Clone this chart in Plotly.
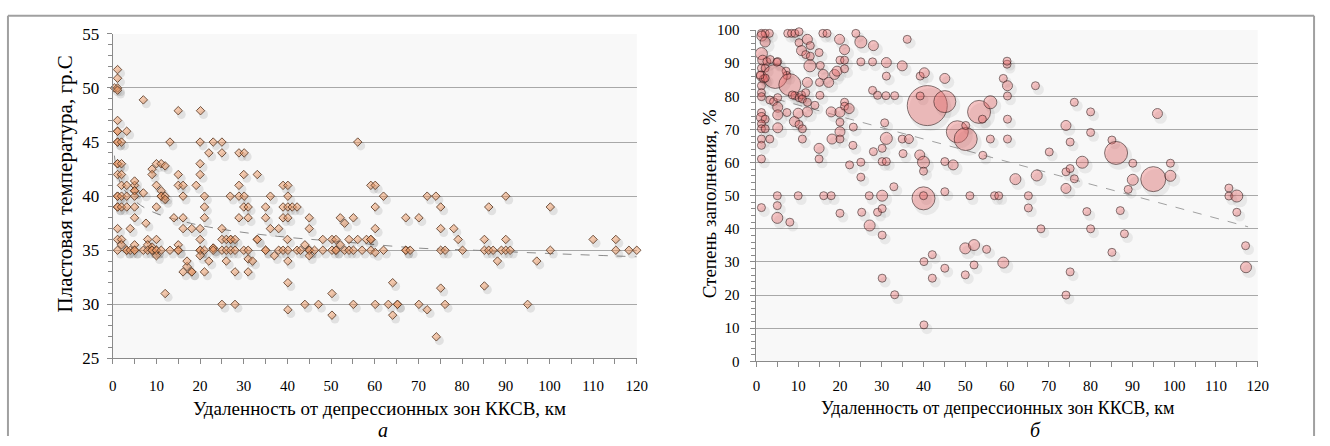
import plotly.graph_objects as go

# ---------------- DATA: panel "а" (temperature vs distance) ----------------
temp_points = [
    (0.4,50),(1.1,51.7),(1.1,50.9),(1.1,50),(1.1,49.8),(7.0,48.9),(15.0,47.9),(20.1,47.9),(1.1,47),
    (1.1,46),(1.1,46),(3.2,46),(1.1,45),(1.1,45),(2.0,45),(13.1,45),(20.0,45),(23.0,45),(25.0,45),
    (22.0,44),(25.0,44),(28.9,44),(30.1,44),(1.1,43),(1.1,43),(2.0,43),(10.0,43),(11.1,43),(12.0,42.8),
    (20.0,43),(9.0,42.5),(1.1,42),(2.0,42),(9.0,42),(15.0,42),(20.0,42),(30.0,42),(33.1,42),
    (2.0,41),(3.2,41),(5.0,41),(10.0,41),(15.0,41),(16.1,41),(19.1,41),(28.9,41),(39.0,41),
    (5.0,41.4),(5.0,40.5),(5.0,40.5),(7.0,40.3),(11.1,40.5),(1.1,40),(1.1,40),(2.0,40),(3.2,40),
    (5.0,40),(11.1,40),(11.1,40),(12.0,40),(12.0,39.7),(16.1,40),(21.0,40),(26.9,40),(28.9,40),
    (30.1,40),(36.1,40),(1.1,39),(1.1,39),(2.0,39),(3.2,39),(5.0,39),(10.0,39),(21.0,39),(30.0,39),
    (31.0,39),(35.0,39),(39.0,39),(5.0,38),(7.6,37.5),(14.0,38),(16.1,38),(21.0,38),(28.9,38),
    (31.0,38),(35.0,38),(39.0,38),(1.1,37),(4.0,37),(16.1,37),(18.1,37),(20.0,37),(25.0,37),
    (36.1,37),(38.0,37),(1.1,36),(2.0,36),(8.0,36),(10.0,36),(20.0,36),(25.0,36),(26.0,36),
    (27.0,36),(27.0,36),(28.0,36),(33.1,36),(33.1,36),(2.0,35.5),(5.0,35.5),(8.0,35.5),(9.0,35.3),
    (15.0,35.5),(23.0,35.2),(23.0,35.2),(1.1,35),(3.2,35),(3.2,35),(4.0,35),(5.0,35),(5.0,35),
    (7.0,35),(8.0,35),(9.0,35),(9.0,35),(10.0,35),(10.0,35),(11.1,35),(13.1,35),(15.0,35),(15.0,35),
    (20.0,35),(20.0,35),(21.0,35),(23.0,35),(25.0,35),(26.0,35),(27.0,35),(28.0,35),(30.0,35),
    (31.0,35),(35.0,35),(35.0,35),(38.0,35),(39.0,35),(10.0,34.5),(20.0,34.5),(37.0,34.5),
    (22.0,34),(26.0,34),(31.0,34.2),(32.0,34),(17.0,33.5),(17.0,34),(16.1,33),(18.1,33),(18.1,33),
    (21.0,33),(28.0,33),(31.0,33),(12.0,31),(25.0,30),(28.0,30),
    (56.1,45),(40.1,41),(59.1,41),(60.1,41),(40.1,40),(62.0,40),(72.0,40),(74.0,40),(40.1,39),
    (41.1,39),(42.2,39),(60.1,39),(75.1,39),(40.1,38),(45.0,38),(52.1,38),(55.1,38),(67.1,38),
    (70.1,38),(53.1,37.5),(45.0,37),(60.1,37),(75.1,37),(78.1,37),(40.0,36),(48.1,36),(50.2,36),
    (51.1,36),(54.1,36),(56.1,36),(58.1,36),(59.1,36),(59.1,36),(79.1,36),(44.0,35.5),(52.1,35.5),
    (40.1,35),(42.2,35),(43.0,35),(45.0,35),(45.0,35),(46.2,35),(48.1,35),(50.2,35),(51.1,35),
    (51.1,35),(53.1,35),(54.1,35),(55.1,35),(57.1,35),(59.1,35),(62.0,35),(67.1,35),(67.1,35),
    (68.1,35),(75.1,35),(76.1,35),(80.1,35),(45.0,34.5),(60.1,34.8),(40.1,34),(40.1,32),(64.1,32),
    (75.1,31.5),(50.2,31),(44.0,30),(47.1,30),(55.1,30),(60.1,30),(63.1,30),(65.2,30),(65.2,30),
    (70.1,30),(76.1,30),(40.1,29.5),(72.0,29.5),(50.2,29),(64.1,29),(74.1,27),
    (90.0,40),(86.1,39),(100.2,39),(85.1,36),(90.0,36),(110.0,36),(115.2,36),(85.1,35),(86.1,35),
    (87.1,35),(89.0,35),(90.0,35),(91.0,35),(100.2,35),(115.2,35),(118.2,35),(120.0,35),
    (88.1,34),(97.1,34),(85.1,31.7),(95.0,30),
]
temp_dist = [p[0] for p in temp_points]
temp_value = [p[1] for p in temp_points]

# trend line
temp_trend_x = [0.37, 1, 2, 3.4, 6.4, 10, 14, 20, 29, 40, 55, 70, 83, 100, 120]
temp_trend_y = [43.75, 42.15, 41.0, 40.2, 39.15, 38.4, 37.9, 37.3, 36.7, 36.2, 35.7, 35.2, 35.0, 34.7, 34.4]

# ---------------- DATA: panel "б" (fill degree vs distance, bubble size) ----------------
fill_points = [
    (1.2,99,8),(2.1,99,8),(3.1,99,8),(7.5,99,8),(8.4,99,8),(9.2,99,8),(10.2,99.5,8),(15.9,99,8),
    (16.9,99,8),(23.8,99,8),(1.3,98.2,10),(2.1,96.4,10),(10.2,96.2,8),(12.2,97.2,10),(12.9,95.3,8),
    (10.8,93.8,10),(11.8,92.6,8),(12.9,92.1,8),(15.0,93.2,8),(19.9,97.2,10),(25.0,96.4,12),
    (28.0,95.3,10),(36.1,97.2,8),(21.1,94.1,10),(20.0,90.9,8),(21.1,90.9,8),(15.3,89.3,8),
    (12.8,89.2,12),(16.0,86.6,10),(17.3,84.2,10),(18.7,86.6,10),(19.3,87.6,10),(21.1,88.3,8),
    (15.1,84.2,8),(12.2,84.2,10),(15.2,80.3,8),(14.0,77.3,8),(17.9,75.3,10),(20.0,75.2,10),
    (21.1,78.2,8),(21.1,77.0,8),(22.2,76.3,10),(20.0,72.2,8),(20.0,69.3,10),(18.1,67.1,10),
    (20.0,67.1,8),(23.1,65.2,8),(15.0,64.3,10),(15.0,61.1,8),(22.3,59.3,8),(25.0,60.1,8),
    (25.0,55.6,8),(23.2,70.7,8),(27.8,81.8,8),(29.0,80.3,8),(31.0,80.2,8),(33.1,80.2,8),
    (25.0,90.4,8),(27.8,90.4,8),(31.1,90.2,10),(31.1,86.1,8),(34.9,89.2,10),(39.2,86.1,8),
    (40.2,87.1,10),(45.1,85.4,10),(30.7,72.0,8),(31.1,67.3,12),(34.9,67.1,8),(36.5,67.1,9),
    (30.1,64.3,8),(30.1,60.3,8),(31.1,60.3,8),(28.0,63.3,8),(35.1,62.7,8),(39.1,62.3,10),
    (40.0,60.1,12),(40.0,57.4,8),(45.1,60.3,8),(47.1,59.3,10),(54.2,62.2,8),
    (1.2,92.9,12),(1.5,90.9,10),(2.5,90.5,8),(3.3,91.1,8),(1.2,88.5,8),(2.1,88.5,8),(1.2,86.1,10),
    (1.7,85.2,8),(1.2,83.2,8),(1.2,81.1,8),(1.2,79.9,8),(3.2,78.9,8),(4.1,78.4,8),(5.1,79.6,8),
    (5.1,76.7,10),(5.1,74.4,10),(5.1,70.5,10),(7.3,75.1,8),(1.2,75.1,8),(1.2,73.6,10),(2.1,73.1,8),
    (1.2,71.7,8),(1.2,70.2,8),(2.1,70.2,8),(3.2,67.1,8),(1.2,67.1,8),(1.2,65.2,8),(1.2,61.1,8),
    (5.1,90.5,8),(7.1,87.6,8),(7.3,86.3,8),(4.5,86.0,24),(8.0,83.5,22),(9.2,80.2,8),(10.2,79.6,8),
    (10.8,80.4,8),(11.0,79.2,8),(8.6,80.4,8),(9.1,72.4,10),(10.2,71.5,8),(11.0,70.2,8),(11.0,67.1,8),
    (12.2,75.3,10),(10.0,74.9,10),(12.2,78.2,8),(11.8,81.1,8),(4.9,90.3,8),(2.1,85.5,8),(0.9,86.4,8),
    (40.9,77.2,40),(45.1,78.4,22),(53.3,75.3,23),(48.1,69.3,22),(50.1,67.1,23),(56.0,78.2,13),
    (54.1,73.1,8),(50.1,71.2,8),(60.0,89.7,8),(60.0,90.6,8),(66.8,83.2,8),(59.1,85.4,8),
    (60.1,83.2,10),(60.1,80.1,8),(60.1,73.1,8),(60.1,67.1,8),(56.0,67.1,8),(39.2,80.1,8),
    (40.0,49.2,23),(40.0,50.0,8),(45.1,51.2,8),(51.1,50,8),(57.0,50,8),(58.0,50,8),(65.1,50,8),
    (65.1,46.3,8),(62.0,55.0,11),(67.1,56.1,11),(70.1,63.2,8),(74.1,71.2,10),(75.1,66.2,8),
    (76.1,78.2,8),(80.0,75.3,8),(80.0,69.1,8),(78.0,60.1,12),(74.1,57.2,8),(75.1,58.2,8),
    (76.1,55.1,8),(74.1,52.2,10),(79.1,45.2,8),
    (96.0,74.8,10),(85.1,66.8,8),(86.1,62.9,23),(90.1,59.8,8),(99.1,59.8,8),(90.1,54.8,11),
    (95.0,55.0,25),(99.1,56.0,11),(89.0,51.9,8),(113.1,52.3,8),(113.1,49.9,8),(115.0,49.9,12),
    (87.1,45.5,8),(115.0,45.0,8),(68.1,40.0,8),(80.0,40.0,8),(88.1,38.5,8),(117.1,34.9,8),
    (55.1,33.8,8),(85.1,32.9,8),(59.1,29.8,11),(117.2,28.4,11),(75.1,27.0,8),(74.1,20.0,8),
    (5.0,50,8),(10.0,50,8),(16.1,50,8),(17.9,50,8),(27.0,50,8),(30.1,50,11),
    (1.2,46.4,8),(5.0,47.0,8),(5.0,43.3,11),(8.0,42.0,8),(27.1,41.0,11),(30.1,38.1,8),
    (50.0,34.1,11),(52.1,35.1,11),(40.1,30.1,8),(42.1,32.2,8),(45.1,28.1,8),(50.0,26.1,8),
    (52.1,29.1,8),(42.1,25.1,8),(30.1,25.1,8),(33.1,20.1,8),(40.1,11.0,8),(32.9,52.7,8),
    (20.0,44.7,8),(25.2,45.0,8),(29.0,45.0,8),(30.1,46.1,8),
]
fill_dist = [p[0] for p in fill_points]
fill_value = [p[1] for p in fill_points]
fill_size = [p[2] for p in fill_points]

fill_trend_x = [0.5, 117.7]
fill_trend_y = [80.6, 40.6]

# ---------------- LAYOUT GEOMETRY ----------------
W, H = 1330, 446
L_X = (110, 640); L_Y = (26, 365)      # pixel box of left plot area
R_X = (761, 1268); R_Y = (22, 368)     # pixel box of right plot area
L_XR = [0, 120]; L_YR = [25, 55]
R_XR = [0, 120]; R_YR = [0, 100]
SH_DX, SH_DY = 3, 4                    # shadow offset, px

def xdom(b): return [b[0] / W, b[1] / W]
def ydom(b): return [1 - b[1] / H, 1 - b[0] / H]

def shifted(xr, yr, bx, by):
    ux = (xr[1] - xr[0]) / (bx[1] - bx[0])
    uy = (yr[1] - yr[0]) / (by[1] - by[0])
    return ([xr[0] - SH_DX * ux, xr[1] - SH_DX * ux],
            [yr[0] + SH_DY * uy, yr[1] + SH_DY * uy])

SERIF = "Liberation Serif"
AXCOL = "#8a8a8a"
GRIDCOL = "#a8a8a8"

def tf(size):
    return dict(family=SERIF, size=size, color="black")

fig = go.Figure()

# trend lines on base axes
fig.add_trace(go.Scatter(x=temp_trend_x, y=temp_trend_y, mode="lines", line_shape="spline",
                         line=dict(color="#8c8c8c", width=1, dash="dash"),
                         xaxis="x", yaxis="y", showlegend=False))
fig.add_trace(go.Scatter(x=fill_trend_x, y=fill_trend_y, mode="lines",
                         line=dict(color="#a0a0a0", width=1, dash="dash"),
                         xaxis="x2", yaxis="y2", showlegend=False))

# shadows
fig.add_trace(go.Scatter(x=temp_dist, y=temp_value, mode="markers", cliponaxis=False,
                         marker=dict(symbol="circle", size=9, color="rgba(0,0,0,0.09)", line=dict(width=0)),
                         xaxis="x3", yaxis="y3", showlegend=False))
fig.add_trace(go.Scatter(x=fill_dist, y=fill_value, mode="markers", cliponaxis=False,
                         marker=dict(symbol="circle", size=[s + 3 for s in fill_size], sizemode="diameter",
                                     color="rgba(0,0,0,0.09)", line=dict(width=0)),
                         xaxis="x4", yaxis="y4", showlegend=False))

# main markers
fig.add_trace(go.Scatter(x=temp_dist, y=temp_value, mode="markers", cliponaxis=False,
                         marker=dict(symbol="diamond", size=6.5, color="rgba(236,150,95,0.5)",
                                     line=dict(color="rgba(90,60,40,0.85)", width=1)),
                         xaxis="x5", yaxis="y5", showlegend=False))
fig.add_trace(go.Scatter(x=fill_dist, y=fill_value, mode="markers", cliponaxis=False,
                         marker=dict(symbol="circle", size=fill_size, sizemode="diameter",
                                     color="rgba(238,110,110,0.55)",
                                     line=dict(color="rgba(50,25,25,0.85)", width=1)),
                         xaxis="x6", yaxis="y6", showlegend=False))

def base_x(dom, rng, anchor, fsize, standoff):
    return dict(domain=dom, range=rng, anchor=anchor, dtick=10, ticks="outside", ticklen=5,
                tickcolor=AXCOL, showline=True, linecolor=AXCOL, linewidth=1, showgrid=False,
                zeroline=False, tickfont=tf(fsize), ticklabelstandoff=standoff,
                minor=dict(dtick=5, ticks="outside", ticklen=5, tickcolor=AXCOL))

def base_y(dom, rng, anchor, dt, mdt, fsize, standoff):
    return dict(domain=dom, range=rng, anchor=anchor, dtick=dt, ticks="outside", ticklen=5,
                tickcolor=AXCOL, showline=True, linecolor=AXCOL, linewidth=1, showgrid=True,
                gridcolor=GRIDCOL, gridwidth=1, zeroline=False, tickfont=tf(fsize),
                ticklabelstandoff=standoff,
                minor=dict(dtick=mdt, ticks="outside", ticklen=4, tickcolor=AXCOL))

def hidden(dom, rng, overlay, anchor):
    return dict(domain=dom, range=rng, overlaying=overlay, anchor=anchor, visible=False)

lxs, lys = shifted(L_XR, L_YR, L_X, L_Y)
rxs, rys = shifted(R_XR, R_YR, R_X, R_Y)

fig.update_layout(
    width=W, height=H, margin=dict(l=0, r=0, t=0, b=0),
    paper_bgcolor="white", plot_bgcolor="#f8f8f8",
    xaxis=base_x(xdom(L_X), L_XR, "y", 15, 9),
    yaxis=base_y(ydom(L_Y), L_YR, "x", 5, 1, 17, 4),
    xaxis2=base_x(xdom(R_X), R_XR, "y2", 15, 6),
    yaxis2=base_y(ydom(R_Y), R_YR, "x2", 10, 2, 15, 8),
    xaxis3=hidden(xdom(L_X), lxs, "x", "y3"),
    yaxis3=hidden(ydom(L_Y), lys, "y", "x3"),
    xaxis4=hidden(xdom(R_X), rxs, "x2", "y4"),
    yaxis4=hidden(ydom(R_Y), rys, "y2", "x4"),
    xaxis5=hidden(xdom(L_X), L_XR, "x", "y5"),
    yaxis5=hidden(ydom(L_Y), L_YR, "y", "x5"),
    xaxis6=hidden(xdom(R_X), R_XR, "x2", "y6"),
    yaxis6=hidden(ydom(R_Y), R_YR, "y2", "x6"),
    showlegend=False,
)

ann = [
    dict(x=62 / W, y=1 - 183 / H, text="Пластовая температура, гр.С", textangle=-90, size=21),
    dict(x=713 / W, y=1 - 203 / H, text="Степень заполнения, %", textangle=-90, size=19),
    dict(x=380 / W, y=1 - 417 / H, text="Удаленность от депрессионных зон ККСВ, км", size=19),
    dict(x=1005 / W, y=1 - 417 / H, text="Удаленность от депрессионных зон ККСВ, км", size=18),
    dict(x=383 / W, y=1 - 440 / H, text="<i>а</i>", size=20),
    dict(x=1043 / W, y=1 - 440 / H, text="<i>б</i>", size=20),
]
for a in ann:
    sz = a.pop("size")
    fig.add_annotation(xref="paper", yref="paper", showarrow=False, xanchor="center", yanchor="middle",
                       font=tf(sz), **a)

# outer frame
FR = dict(color="#a0a0a0", width=2)
fig.add_shape(type="line", xref="paper", yref="paper", x0=4 / W, x1=1325 / W, y0=1 - 7 / H, y1=1 - 7 / H, line=FR)
fig.add_shape(type="line", xref="paper", yref="paper", x0=4 / W, x1=4 / W, y0=0, y1=1 - 7 / H, line=FR)
fig.add_shape(type="line", xref="paper", yref="paper", x0=1325 / W, x1=1325 / W, y0=0, y1=1 - 7 / H, line=FR)

fig.write_html("out.html")
